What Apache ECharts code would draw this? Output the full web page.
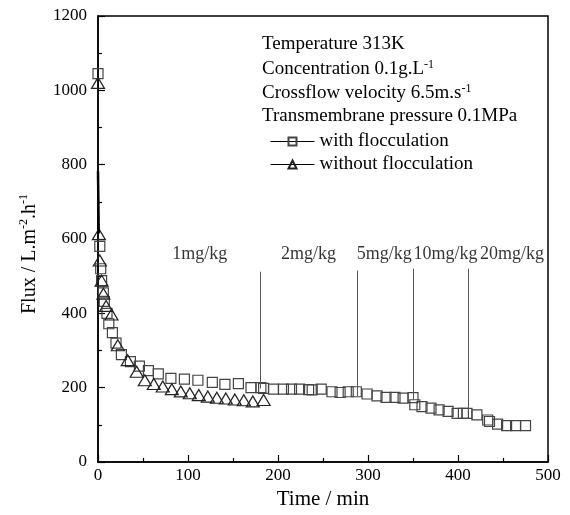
<!DOCTYPE html>
<html><head><meta charset="utf-8">
<script src="https://cdn.jsdelivr.net/npm/echarts@6/dist/echarts.min.js"></script>
<style>html,body{margin:0;padding:0;background:#fff}#c{width:570px;height:515px}</style>
</head><body><div id="c"></div>
<script>
// with flocculation: [time (min), flux]
var withFloc = [[0,1045],[2,580],[3,520],[4,488],[6,455],[7,432],[10,400],[12,372],[16,348],[20,320],[26,289],[36,270],[46,258],[56,246],[67,237],[81,225],[96,223],[111,220],[127,214],[141,209],[156,211],[170,200],[181,200],[184,198],[195,196],[206,196],[215,196],[224,196],[234,195],[238,194],[248,196],[260,189],[269,187],[278,189],[287,189],[299,183],[310,178],[320,174],[330,174],[339,172],[350,173],[352,154],[360,149],[370,145],[379,140],[389,136],[399,131],[406,131],[410,131],[421,127],[433,113],[435,109],[444,102],[454,98],[464,98],[475,98]];
// without flocculation
var withoutFloc = [[0,1020],[1,613],[2,542],[4,488],[6,453],[9,420],[15,397],[22,314],[33,274],[43,243],[52,220],[62,210],[72,203],[82,196],[92,190],[102,185],[112,180],[122,176],[132,173],[142,171],[152,168],[162,166],[172,163],[184,167]];
// dose markers: [time, top flux, bottom flux]
var doseLines = [[180,512,198],[288,515,177],[350,520,168],[411,520,136]];
// dose labels: [time, flux, text]
var doseLabels = [[113,560,'1mg/kg'],[234,560,'2mg/kg'],[318,560,'5mg/kg'],[386,560,'10mg/kg'],[460,560,'20mg/kg']];
var xTicks = {min:0, max:500, interval:100};
var yTicks = {min:0, max:1200, interval:200};

var FONT = 'Liberation Serif';
var chart = echarts.init(document.getElementById('c'));
function axisCommon(t){
  return {
    min:t.min, max:t.max, interval:t.interval,
    axisLine:{show:true, onZero:false, lineStyle:{color:'#000', width:1.5}},
    axisTick:{show:true, inside:true, length:7, lineStyle:{color:'#000', width:1.2}},
    minorTick:{show:true, splitNumber:2, length:4, lineStyle:{color:'#000', width:1.2}},
    splitLine:{show:false},
    axisLabel:{color:'#000', fontFamily:FONT, fontSize:17, formatter:function(v){return String(v);}}
  };
}
var xa = axisCommon(xTicks);
xa.type='value'; xa.name='Time / min'; xa.nameLocation='middle'; xa.nameGap=27;
xa.nameTextStyle={color:'#000', fontFamily:FONT, fontSize:21};
xa.axisLabel.margin=5;
var ya = axisCommon(yTicks);
ya.type='value';
ya.name='Flux / L.m{sup|-2}.h{sup|-1}'; ya.nameLocation='middle'; ya.nameGap=50;
ya.nameTextStyle={color:'#000', fontFamily:FONT, fontSize:20, lineHeight:24, padding:[0,30,0,0],
  rich:{sup:{fontSize:12, fontFamily:FONT, color:'#000', verticalAlign:'top', lineHeight:24, padding:[0,0,10,0]}}};
ya.axisLabel.margin=11;

var richSup = {sup:{fontSize:12, fontFamily:FONT, fill:'#000', padding:[0,0,9,0]}};
function infoText(top, txt){
  return {type:'text', left:262, top:top, style:{text:txt, font:'19px "Liberation Serif"', fill:'#000', rich:richSup}};
}

chart.setOption({
  animation:false,
  backgroundColor:'#fff',
  grid:{left:98, right:22, top:16, bottom:51, show:true, borderColor:'#000', borderWidth:1.5},
  xAxis:xa,
  yAxis:ya,
  legend:{
    data:['with flocculation','without flocculation'],
    orient:'vertical', left:265, top:127, itemWidth:44, itemHeight:10, itemGap:4,
    textStyle:{color:'#000', fontFamily:FONT, fontSize:19, lineHeight:19},
    lineStyle:{color:'#000', width:1, opacity:1}
  },
  graphic:[
    infoText(35,'Temperature 313K'),
    infoText(59,'Concentration 0.1g.L{sup|-1}'),
    infoText(83,'Crossflow velocity 6.5m.s{sup|-1}'),
    infoText(107,'Transmembrane pressure 0.1MPa')
  ],
  series:[
    {name:'with flocculation', type:'line', data:withFloc, symbol:'rect', symbolSize:10,
     showAllSymbol:true, lineStyle:{opacity:0, width:1, color:'#000'},
     itemStyle:{color:'rgba(255,255,255,0)', borderColor:'#444', borderWidth:1.2}, z:3},
    {name:'without flocculation', type:'line', data:withoutFloc, symbol:'triangle', symbolSize:[13,11],
     showAllSymbol:true, lineStyle:{opacity:0, width:1, color:'#000'},
     itemStyle:{color:'rgba(255,255,255,0)', borderColor:'#222', borderWidth:1.2}, z:3,
     markLine:{silent:true, symbol:['none','none'], label:{show:false},
       lineStyle:{color:'#000', width:2.5, type:'solid'},
       data:[[{coord:[0,782]},{coord:[0.8,615]}]]}},
    {name:'doses', type:'scatter', symbolSize:0, silent:true,
     data:doseLabels.map(function(d){return {value:[d[0],d[1]], name:d[2]};}),
     label:{show:true, position:'inside', formatter:function(p){return p.name;}, color:'#000', fontFamily:FONT, fontSize:18},
     markLine:{silent:true, symbol:['none','none'], label:{show:false},
       lineStyle:{color:'#555', width:1, type:'solid'},
       data:doseLines.map(function(d){return [{coord:[d[0],d[1]]},{coord:[d[0],d[2]]}];})}}
  ]
});
</script></body></html>
